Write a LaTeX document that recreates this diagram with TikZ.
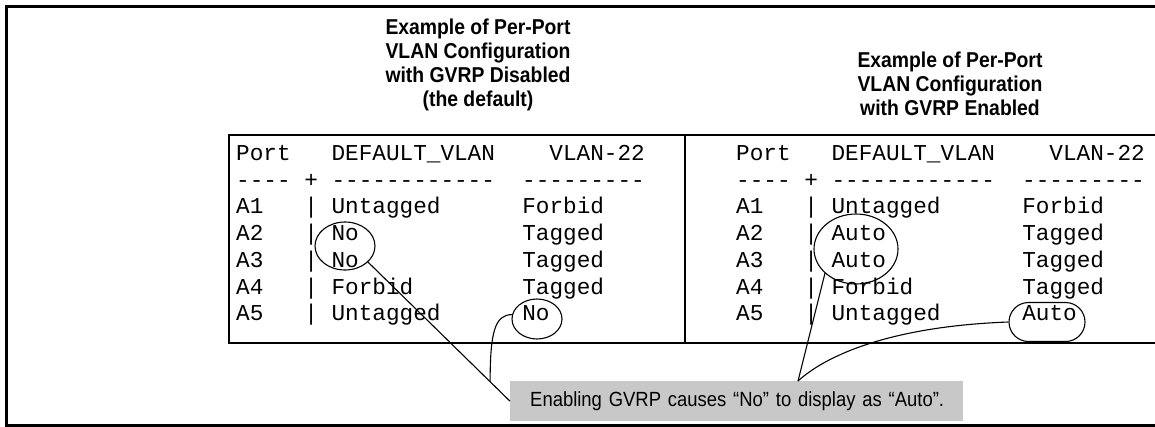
\documentclass[tikz,border=0pt]{standalone}
\usepackage{fontspec}
\setmainfont{Liberation Sans}
\newfontfamily\condfont[FakeStretch=0.9]{Liberation Sans}
\newfontfamily\screenfont{Liberation Mono}
\usetikzlibrary{shapes.geometric,shapes.misc,calc}

\definecolor{notegray}{RGB}{200,200,200}

\tikzset{
  title/.style={font=\condfont\bfseries\fontsize{21.5}{24}\selectfont, align=center, inner sep=0pt},
  row/.style={font=\screenfont\fontsize{22.7}{26}\selectfont, anchor=base west, inner sep=0pt},
  ring/.style={ellipse, draw, line width=1.1pt, inner sep=0pt},
  lead/.style={line width=1.1pt},
}

\begin{document}
\begin{tikzpicture}[x=1pt, y=-1pt]
  \useasboundingbox (0,0) rectangle (1155,426);
  \tikzset{frame line/.style={line width=3pt}, table line/.style={line width=2.5pt}}

  % outer frame, open on the right
  \draw[frame line] (1160,6) -- (6,6) -- (6,425) -- (1160,425);

  % headings
  \node[title] (titleL) at (478,65) {Example of Per-Port\\VLAN Configuration\\with GVRP Disabled\\(the default)};
  \node[title] (titleR) at (950,84) {Example of Per-Port\\VLAN Configuration\\with GVRP Enabled};

  % table box and divider
  \draw[table line] (1160,135) -- (229,135) -- (229,343) -- (1160,343);
  \draw[table line] (685,135) -- (685,343);

  % GVRP disabled
  \node[row] (L0) at (236,160.5) {Port~~~DEFAULT\_VLAN~~~~VLAN-22};
  \node[row] (L1) at (236,187.2) {----~+~------------~~---------};
  \node[row] (L2) at (236,213.9) {A1~~~|~Untagged~~~~~~Forbid};
  \node[row] (L3) at (236,240.6) {A2~~~|~No~~~~~~~~~~~~Tagged};
  \node[row] (L4) at (236,267.3) {A3~~~|~No~~~~~~~~~~~~Tagged};
  \node[row] (L5) at (236,294.0) {A4~~~|~Forbid~~~~~~~~Tagged};
  \node[row] (L6) at (236,320.7) {A5~~~|~Untagged~~~~~~No};

  % GVRP enabled
  \node[row] (R0) at (736,160.5) {Port~~~DEFAULT\_VLAN~~~~VLAN-22};
  \node[row] (R1) at (736,187.2) {----~+~------------~~---------};
  \node[row] (R2) at (736,213.9) {A1~~~|~Untagged~~~~~~Forbid};
  \node[row] (R3) at (736,240.6) {A2~~~|~Auto~~~~~~~~~~Tagged};
  \node[row] (R4) at (736,267.3) {A3~~~|~Auto~~~~~~~~~~Tagged};
  \node[row] (R5) at (736,294.0) {A4~~~|~Forbid~~~~~~~~Tagged};
  \node[row] (R6) at (736,320.7) {A5~~~|~Untagged~~~~~~Auto};

  % rings round the changed entries
  \node[ring, minimum width=60pt, minimum height=48pt] (noL) at (345,246) {};
  \node[ring, minimum width=50pt, minimum height=40pt] (noA5) at (537,319) {};
  \node[ring, minimum width=84pt, minimum height=70pt] (autoL) at (856,249) {};
  \node[rounded rectangle, draw, line width=1.1pt, inner sep=0pt,
        minimum width=76pt, minimum height=39pt] (autoA5) at (1047,322) {};

  % note
  \node[fill=notegray, anchor=north west, minimum width=453pt, minimum height=40pt,
        text width=413pt, inner xsep=20pt, inner ysep=0pt, align=left,
        font=\condfont\fontsize{20.5}{24}\selectfont] (note) at (510,381)
        {\mbox{Enabling GVRP causes “No” to display as “Auto”.}};

  \coordinate (jL) at ($(noL.-35)!0.86!(note.west)$);
  \coordinate (jR) at ($(note.north west)+(288,0)$);

  \draw[lead] (noL.-35) -- (note.west);
  \draw[lead] (noA5.170) .. controls +(-17,0) and +(0,-50) .. (jL);
  \draw[lead] (autoL.-142) -- (jR);
  \draw[lead] (autoA5.west) .. controls +(-110,4) and +(32,-29) .. (jR);
\end{tikzpicture}
\end{document}
